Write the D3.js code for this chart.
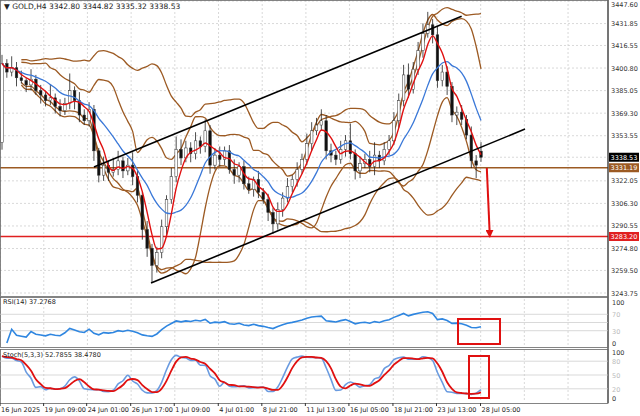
<!DOCTYPE html>
<html><head><meta charset="utf-8">
<script src="https://cdn.jsdelivr.net/npm/d3@7"></script>
<style>body{margin:0;background:#fff}svg{font-family:"DejaVu Sans",sans-serif}</style>
</head><body><svg id="c" width="640" height="416"></svg>
<script>
const closes=[3404,3398,3401,3394,3392,3389,3393,3385,3382,3378,3380,3374,3371,3376,3385,3378,3368,3364,3372,3343,3326,3333,3328,3330,3336,3329,3333,3325,3312,3288,3275,3263,3272,3290,3309,3325,3344,3338,3345,3341,3350,3346,3357,3333,3340,3337,3343,3330,3326,3332,3320,3316,3323,3314,3309,3300,3292,3302,3310,3318,3323,3330,3337,3348,3357,3361,3364,3343,3340,3337,3344,3350,3341,3329,3334,3337,3332,3340,3336,3344,3350,3364,3378,3396,3386,3400,3413,3425,3431,3424,3392,3398,3388,3368,3370,3365,3354,3336,3333,3338.53];
const upWick=[6,3,8,4,5,2,7,3,4,2,9,3,5,4,12,3,6,4,5,3,2,6,3,8,7,3,5,9,4,2,6,3,4,5,3,6,9,7,5,4,6,3,8,4,5,6,3,4,7,3,4,5,2,6,3,4,3,5,4,6,3,5,4,7,6,5,8,4,5,3,6,4,12,3,5,4,6,9,3,5,4,6,5,7,8,5,6,7,9,4,6,5,4,3,4,5,3,6,4,6.29];
const dnWick=[5,4,3,6,2,5,4,3,6,4,3,5,4,3,4,6,5,3,4,7,5,4,6,3,4,5,3,6,5,7,6,12,5,4,6,3,4,5,3,6,4,5,4,6,3,5,4,3,6,5,4,3,5,4,3,6,7,4,5,3,4,5,3,4,5,3,4,6,5,4,3,5,4,6,5,3,4,6,5,3,4,3,5,4,6,3,4,5,3,6,5,4,6,5,7,4,3,5,9,3.21];
const openLast=3342.80;
const priceTicks=[3447.60,3431.85,3416.55,3400.80,3385.05,3369.30,3353.55,3338.53,3322.05,3306.30,3290.55,3274.80,3259.50,3243.75];
const timeLabels=["16 Jun 2025","19 Jun 09:00","24 Jun 01:00","26 Jun 17:00","1 Jul 09:00","4 Jul 01:00","8 Jul 21:00","11 Jul 13:00","16 Jul 05:00","18 Jul 21:00","23 Jul 13:00","28 Jul 05:00"];
const timeLabelBars=[-0.4,8.6,17.5,26.6,35.6,44.7,53.7,62.7,71.7,80.8,89.8,98.9];
const supportLevel=3331.19, targetLevel=3283.20;
const upperChannel=[[19,3331.7],[95,3437]];
const lowerChannel=[[30.8,3250.7],[108.1,3358.2]];
const arrowPts=[[100.2,3331],[100.8,3285]];

const svg=d3.select("#c");
const N=closes.length;
const opens=closes.map((c,i)=>i?closes[i-1]:openLast+6);
opens[N-1]=openLast;
const highs=closes.map((c,i)=>Math.max(c,opens[i])+upWick[i]);
const lows=closes.map((c,i)=>Math.min(c,opens[i])-dnWick[i]);
const x=d3.scaleLinear().domain([0,N-1]).range([2,481]);
const y=d3.scaleLinear().domain([3243.75,3447.6]).range([293,1]);
const R=608;
const gridX=d3.range(0,15).map(k=>timeLabelBars[0]+k*9.03).map(b=>x(b)).filter(v=>v<R);
const g=svg.append("g");
gridX.forEach(v=>{[[0,296],[299,346],[350,402]].forEach(([a,b])=>g.append("line").attr("x1",v).attr("x2",v).attr("y1",a).attr("y2",b).attr("stroke","#c8c8c8").attr("stroke-dasharray","2,2").attr("stroke-width",0.7));});
priceTicks.forEach(p=>g.append("line").attr("x1",0).attr("x2",R).attr("y1",y(p)).attr("y2",y(p)).attr("stroke","#c8c8c8").attr("stroke-dasharray","2,2").attr("stroke-width",0.7));
function sma(a,n){return a.map((v,i)=>{const s=a.slice(Math.max(0,i-n+1),i+1);return d3.mean(s);});}
function bb(n,k){return closes.map((v,i)=>{if(i<4)return null;const s=closes.slice(Math.max(0,i-n+1),i+1);const m=d3.mean(s),sd=d3.deviation(s)*Math.sqrt((s.length-1)/s.length);return [m+k*sd,m-k*sd];});}
const line=d3.line().defined(d=>d[1]!=null).x(d=>x(d[0])).y(d=>y(d[1])).curve(d3.curveMonotoneX);
const b1=bb(20,2),b2=bb(10,1.6);
[b1,b2].forEach(b=>[0,1].forEach(j=>svg.append("path").attr("d",line(b.map((d,i)=>[i,d?d[j]:null]))).attr("fill","none").attr("stroke","#9c5a23").attr("stroke-width",1.3)));
svg.append("line").attr("x1",0).attr("x2",R).attr("y1",y(supportLevel)).attr("y2",y(supportLevel)).attr("stroke","#9c5a23").attr("stroke-width",1.3);
svg.append("line").attr("x1",0).attr("x2",R).attr("y1",y(targetLevel)).attr("y2",y(targetLevel)).attr("stroke","#e02020").attr("stroke-width",1.3);
const cg=svg.append("g");
closes.forEach((c,i)=>{const xx=x(i);
 cg.append("line").attr("x1",xx).attr("x2",xx).attr("y1",y(highs[i])).attr("y2",y(lows[i])).attr("stroke","#222").attr("stroke-width",0.8);
 const top=y(Math.max(c,opens[i])),bot=y(Math.min(c,opens[i]));
 cg.append("rect").attr("x",xx-1.3).attr("width",2.6).attr("y",top).attr("height",Math.max(0.8,bot-top)).attr("fill",c>=opens[i]?"#fff":"#111").attr("stroke","#333").attr("stroke-width",0.5);});
svg.append("path").attr("d",line(sma(closes,10).map((v,i)=>[i,v]))).attr("fill","none").attr("stroke","#3a78d8").attr("stroke-width",1.3);
svg.append("path").attr("d",line(sma(closes,4).map((v,i)=>[i,v]))).attr("fill","none").attr("stroke","#e01010").attr("stroke-width",1.4);
[upperChannel,lowerChannel].forEach(c=>svg.append("line").attr("x1",x(c[0][0])).attr("y1",y(c[0][1])).attr("x2",x(c[1][0])).attr("y2",y(c[1][1])).attr("stroke","#000").attr("stroke-width",1.6));
svg.append("defs").append("marker").attr("id","ah").attr("viewBox","0 0 10 10").attr("refX",5).attr("refY",5).attr("markerWidth",4).attr("markerHeight",4).attr("orient","auto").append("path").attr("d","M0,0L10,5L0,10z").attr("fill","#e01010");
svg.append("line").attr("x1",x(arrowPts[0][0])).attr("y1",y(arrowPts[0][1])).attr("x2",x(arrowPts[1][0])).attr("y2",y(arrowPts[1][1])).attr("stroke","#e01010").attr("stroke-width",2).attr("marker-end","url(#ah)");
svg.append("rect").attr("x",R).attr("y",0).attr("width",32).attr("height",416).attr("fill","#fff");
svg.append("line").attr("x1",R).attr("x2",R).attr("y1",0).attr("y2",403).attr("stroke","#000");
priceTicks.forEach(p=>{if(p===3338.53)return;svg.append("text").attr("x",R+3).attr("y",Math.max(7,y(p)+2.5)).attr("font-size",6.5).attr("fill","#333").text(p.toFixed(2));});
[[3338.53,"#000"],[supportLevel,"#9c5a23"],[targetLevel,"#e02020"]].forEach(([p,c])=>{svg.append("rect").attr("x",R+1).attr("y",y(p)-4.5).attr("width",30).attr("height",9).attr("fill",c);svg.append("text").attr("x",R+2.5).attr("y",y(p)+2.5).attr("font-size",6.5).attr("fill","#fff").text(p.toFixed(2));});
svg.append("text").attr("x",4).attr("y",9).attr("font-size",7.5).attr("fill","#222").text("▼  GOLD,H4  3342.80 3344.82 3335.32 3338.53");
[[0,296],[297,347],[349,403]].forEach(([a,b])=>svg.append("rect").attr("x",0.5).attr("y",a+0.5).attr("width",R-0.5).attr("height",b-a).attr("fill","none").attr("stroke","#666").attr("stroke-width",0.8));
let ag=0,al=0;const rsi=closes.map((c,i)=>{if(i===0)return null;const d=c-closes[i-1];const n=Math.min(i,14);ag=(ag*(n-1)+Math.max(d,0))/n;al=(al*(n-1)+Math.max(-d,0))/n;return 100*ag/(ag+al||1);});
const yr=d3.scaleLinear().domain([0,100]).range([343,302]);
[70,50,30].forEach(v=>svg.append("line").attr("x1",0).attr("x2",R).attr("y1",yr(v)).attr("y2",yr(v)).attr("stroke","#c8c8c8").attr("stroke-width",0.7));
svg.append("path").attr("d",d3.line().defined(d=>d!=null).x((d,i)=>x(i)).y(d=>yr(d))(rsi)).attr("fill","none").attr("stroke","#2f86e0").attr("stroke-width",1.6);
svg.append("text").attr("x",3).attr("y",304).attr("font-size",6.5).attr("fill","#222").text("RSI(14) 37.2768");
[[100,"100"],[70,"70"],[30,"30"],[0,"0"]].forEach(([v,t])=>svg.append("text").attr("x",R+4).attr("y",yr(v)+3).attr("font-size",6.5).attr("fill",v%100?"#bbb":"#333").text(t));
const ys=d3.scaleLinear().domain([0,100]).range([398,352]);
const rawK=closes.map((c,i)=>{const s=Math.max(0,i-4);const hh=d3.max(highs.slice(s,i+1)),ll=d3.min(lows.slice(s,i+1));return 100*(c-ll)/(hh-ll);});
const K=sma(rawK,3),D=sma(K,3);
[80,50,20].forEach(v=>svg.append("line").attr("x1",0).attr("x2",R).attr("y1",ys(v)).attr("y2",ys(v)).attr("stroke","#c8c8c8").attr("stroke-width",0.7));
const sl=d3.line().x((d,i)=>x(i)).y(d=>ys(d)).curve(d3.curveMonotoneX);
svg.append("path").attr("d",sl(K)).attr("fill","none").attr("stroke","#6a9be0").attr("stroke-width",1.6);
svg.append("path").attr("d",sl(D)).attr("fill","none").attr("stroke","#e01010").attr("stroke-width",1.8);
svg.append("text").attr("x",3).attr("y",357).attr("font-size",6.5).attr("fill","#222").text("Stoch(5,3,3) 52.7855 38.4780");
[[100,"100"],[80,"80"],[50,"50"],[20,"20"],[0,"0"]].forEach(([v,t])=>svg.append("text").attr("x",R+4).attr("y",ys(v)+3).attr("font-size",6.5).attr("fill",v%100?"#bbb":"#333").text(t));
svg.append("rect").attr("x",458).attr("y",319).attr("width",42).attr("height",25).attr("fill","none").attr("stroke","#e01010").attr("stroke-width",2);
svg.append("rect").attr("x",469).attr("y",356).attr("width",20).attr("height",42).attr("fill","none").attr("stroke","#e01010").attr("stroke-width",2);
timeLabels.forEach((t,i)=>{const xx=Math.max(0,x(timeLabelBars[i]));svg.append("line").attr("x1",xx).attr("x2",xx).attr("y1",403).attr("y2",406).attr("stroke","#333");svg.append("text").attr("x",xx+1).attr("y",412).attr("font-size",6.5).attr("fill","#222").text(t);});
</script></body></html>
